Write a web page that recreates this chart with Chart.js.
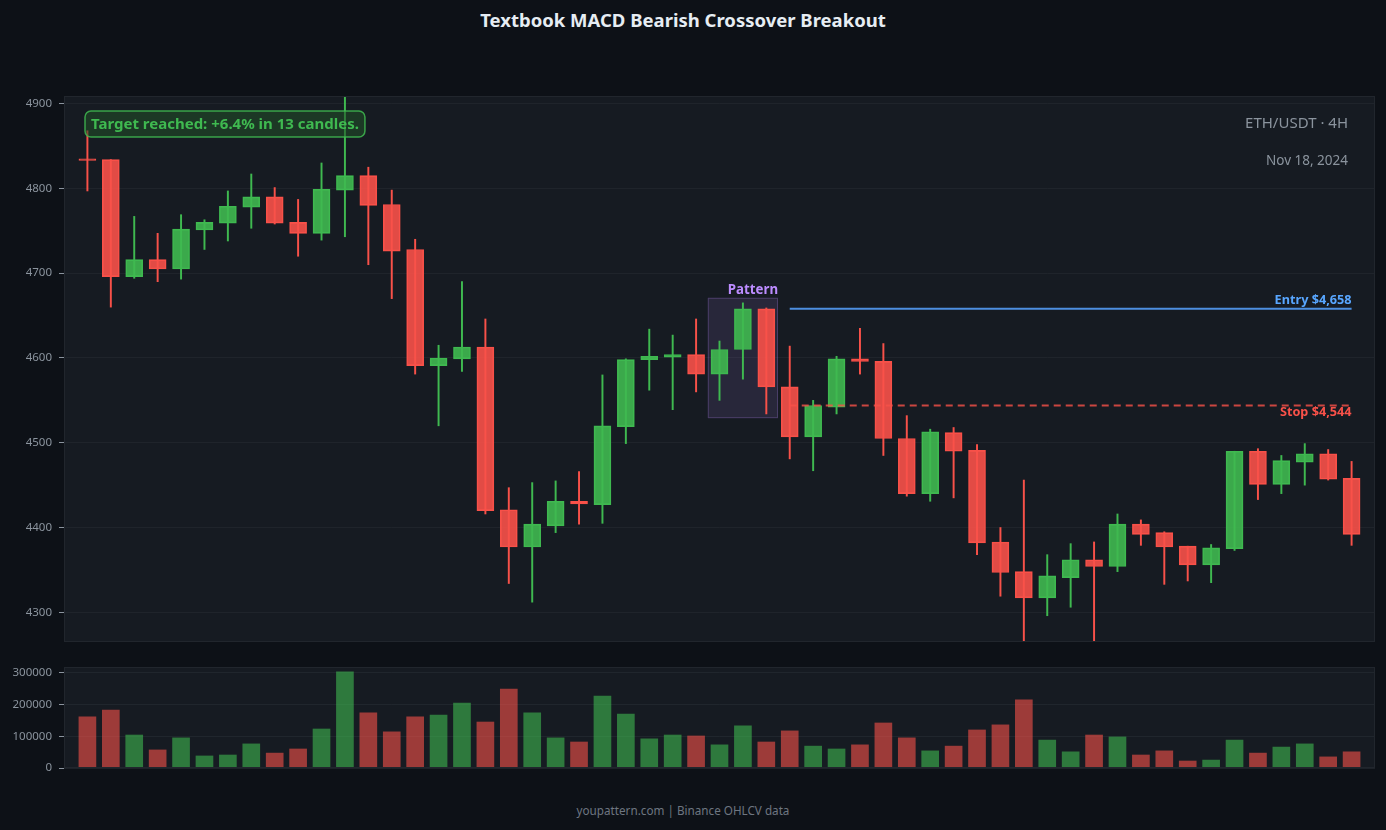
<!DOCTYPE html>
<html>
<head>
<meta charset="utf-8">
<script src="https://cdn.jsdelivr.net/npm/chart.js@4.4.0/dist/chart.umd.min.js"></script>
<style>
  html, body { margin: 0; padding: 0; background: #0d1117; }
  body { width: 1386px; height: 830px; position: relative; overflow: hidden; font-family: "Noto Sans", sans-serif; }
  #title { position: absolute; left: 0; top: 8px; width: 1366px; text-align: center; color: #e6edf3; font-weight: 700; font-size: 18.5px; line-height: 24px; }
  #footer { position: absolute; left: 0; top: 802px; width: 1366px; text-align: center; color: #6e7681; font-size: 11.7px; }
  #mainWrap { position: absolute; left: 0; top: 0; }
  #volWrap { position: absolute; left: 0; top: 655px; }
</style>
</head>
<body>
<div id="title">Textbook MACD Bearish Crossover Breakout</div>
<div id="mainWrap"><canvas id="priceChart" width="1386" height="650"></canvas></div>
<div id="volWrap"><canvas id="volChart" width="1386" height="120"></canvas></div>
<div id="footer">youpattern.com | Binance OHLCV data</div>

<script>
// OHLCV, one entry per candle
const opens  = [4835, 4834, 4696, 4716, 4705, 4751, 4759, 4778, 4790, 4760,
                4747, 4798, 4815, 4781, 4728, 4591, 4599, 4613, 4421, 4377,
                4402, 4431, 4427, 4519, 4598, 4601, 4604, 4581, 4610, 4658,
                4566, 4507, 4542, 4599, 4596, 4505, 4440, 4512, 4491, 4383,
                4348, 4317, 4341, 4362, 4354, 4404, 4394, 4378, 4356, 4375,
                4490, 4451, 4477, 4487, 4458];
const highs  = [4868, 4834, 4767, 4747, 4769, 4763, 4797, 4817, 4801, 4787,
                4830, 4915, 4825, 4798, 4740, 4615, 4690, 4646, 4447, 4453,
                4455, 4466, 4580, 4599, 4634, 4627, 4646, 4620, 4665, 4659,
                4614, 4550, 4602, 4635, 4617, 4532, 4516, 4518, 4498, 4400,
                4456, 4368, 4381, 4383, 4416, 4409, 4395, 4378, 4380, 4490,
                4493, 4485, 4499, 4492, 4478];
const lows   = [4797, 4660, 4694, 4690, 4693, 4728, 4738, 4753, 4758, 4720,
                4739, 4743, 4710, 4670, 4581, 4520, 4584, 4416, 4334, 4312,
                4394, 4404, 4405, 4499, 4562, 4539, 4560, 4550, 4575, 4534,
                4481, 4467, 4534, 4581, 4485, 4437, 4431, 4435, 4368, 4319,
                4258, 4296, 4306, 4258, 4348, 4379, 4333, 4337, 4335, 4373,
                4433, 4440, 4450, 4456, 4379];
const closes = [4833, 4696, 4716, 4705, 4752, 4760, 4779, 4790, 4759, 4747,
                4799, 4815, 4780, 4726, 4591, 4600, 4613, 4420, 4377, 4404,
                4431, 4428, 4520, 4598, 4602, 4604, 4581, 4610, 4658, 4566,
                4507, 4544, 4599, 4596, 4505, 4440, 4513, 4490, 4382, 4347,
                4317, 4343, 4362, 4354, 4404, 4392, 4377, 4356, 4376, 4490,
                4451, 4479, 4487, 4457, 4392];
const volumes = [161000, 183000, 104000, 57000, 95000, 38000, 41000, 76000, 47000, 60000,
                 123000, 303000, 174000, 114000, 161000, 167000, 205000, 145000, 249000, 174000,
                 95000, 82000, 227000, 170000, 92000, 104000, 101000, 73000, 133000, 82000,
                 117000, 69000, 60000, 73000, 142000, 95000, 54000, 69000, 120000, 136000,
                 215000, 88000, 51000, 104000, 98000, 41000, 54000, 22000, 25000, 88000,
                 47000, 66000, 76000, 35000, 51000];

const priceTicks = [4300, 4400, 4500, 4600, 4700, 4800, 4900];
const volumeTicks = [0, 100000, 200000, 300000];

const entryPrice = 4658;
const stopPrice = 4544;
const tradeFrom = 30, tradeTo = 54;
const patternFrom = 27, patternTo = 29;

const GREEN = '#3fb950';
const RED = '#f85149';
const up = opens.map((o, i) => closes[i] >= o);

Chart.defaults.font.family = '"Noto Sans", sans-serif';
Chart.defaults.color = '#8b949e';
Chart.defaults.animation = false;

const plotFrame = {
    id: 'plotFrame',
    beforeDraw(chart) {
        const { ctx, chartArea: a } = chart;
        ctx.save();
        ctx.fillStyle = '#161b22';
        ctx.fillRect(a.left, a.top, a.right - a.left, a.bottom - a.top);
        ctx.restore();
    },
    afterDraw(chart) {
        const { ctx, chartArea: a } = chart;
        ctx.save();
        ctx.strokeStyle = '#21262d';
        ctx.lineWidth = 1;
        ctx.strokeRect(a.left + 0.5, a.top + 0.5, a.right - a.left - 1, a.bottom - a.top - 1);
        ctx.restore();
    }
};

function roundRect(ctx, x, y, w, h, r) {
    ctx.beginPath();
    ctx.moveTo(x + r, y);
    ctx.arcTo(x + w, y, x + w, y + h, r);
    ctx.arcTo(x + w, y + h, x, y + h, r);
    ctx.arcTo(x, y + h, x, y, r);
    ctx.arcTo(x, y, x + w, y, r);
    ctx.closePath();
}

// pattern box under candles, labels on top
const annotations = {
    id: 'annotations',
    beforeDatasetsDraw(chart) {
        const { ctx, scales: { x, y } } = chart;
        let lo = Infinity, hi = -Infinity;
        for (let i = patternFrom; i <= patternTo; i++) {
            lo = Math.min(lo, lows[i]);
            hi = Math.max(hi, highs[i]);
        }
        const x0 = x.getPixelForValue(patternFrom - 0.5);
        const x1 = x.getPixelForValue(patternTo + 0.5);
        const y0 = y.getPixelForValue(hi + 6);
        const y1 = y.getPixelForValue(lo - 5);
        ctx.save();
        ctx.fillStyle = 'rgba(188,140,255,0.11)';
        ctx.strokeStyle = 'rgba(188,140,255,0.24)';
        ctx.lineWidth = 1;
        ctx.fillRect(x0, y0, x1 - x0, y1 - y0);
        ctx.strokeRect(x0 + 0.5, y0 + 0.5, x1 - x0 - 1, y1 - y0 - 1);
        ctx.fillStyle = '#bc8cff';
        ctx.font = '700 13.3px "Noto Sans"';
        ctx.textAlign = 'right';
        ctx.textBaseline = 'bottom';
        ctx.fillText('Pattern', x1, y0 - 1);
        ctx.restore();
    },
    afterDatasetsDraw(chart) {
        const { ctx, chartArea: a, scales: { x, y } } = chart;
        ctx.save();
        const xr = x.getPixelForValue(tradeTo);
        ctx.font = '700 12.7px "Noto Sans"';
        ctx.textAlign = 'right';
        ctx.textBaseline = 'bottom';
        ctx.fillStyle = '#58a6ff';
        ctx.fillText('Entry $4,658', xr, y.getPixelForValue(entryPrice) - 2);
        ctx.textBaseline = 'top';
        ctx.fillStyle = RED;
        ctx.fillText('Stop $4,544', xr, y.getPixelForValue(stopPrice) + 1);

        ctx.font = '15px "Noto Sans"';
        ctx.textBaseline = 'middle';
        ctx.fillStyle = '#8b949e';
        ctx.fillText('ETH/USDT · 4H', a.right - 27, 124);
        ctx.font = '13.5px "Noto Sans"';
        ctx.fillText('Nov 18, 2024', a.right - 27, 161);

        const msg = 'Target reached: +6.4% in 13 candles.';
        ctx.font = '700 15px "Noto Sans"';
        const w = ctx.measureText(msg).width + 12;
        ctx.fillStyle = 'rgba(35,80,40,0.55)';
        roundRect(ctx, 85, 111, w, 26, 6);
        ctx.fill();
        ctx.strokeStyle = 'rgba(63,185,80,0.85)';
        ctx.lineWidth = 1.5;
        ctx.stroke();
        ctx.fillStyle = GREEN;
        ctx.textAlign = 'left';
        ctx.fillText(msg, 91, 124.5);
        ctx.restore();
    }
};

const idx = opens.map((_, i) => i);

function fitY(s) {
    s.width = 64;
    s.paddingTop = 0;
    s.paddingBottom = 0;
}

new Chart(document.getElementById('priceChart'), {
    type: 'bar',
    data: {
        datasets: [{
            type: 'line',
            data: [{ x: tradeFrom, y: entryPrice }, { x: tradeTo, y: entryPrice }],
            borderColor: 'rgba(80,150,235,0.95)',
            borderWidth: 2,
            pointRadius: 0
        }, {
            type: 'line',
            data: [{ x: tradeFrom, y: stopPrice }, { x: tradeTo, y: stopPrice }],
            borderColor: 'rgba(248,81,73,0.8)',
            borderWidth: 2,
            borderDash: [7, 5],
            pointRadius: 0
        }, {
            // bodies
            data: idx.map(i => ({ x: i, y: [opens[i], closes[i]] })),
            backgroundColor: up.map(u => u ? 'rgba(63,185,80,0.9)' : 'rgba(248,81,73,0.9)'),
            borderColor: up.map(u => u ? GREEN : RED),
            borderWidth: 1,
            borderSkipped: false,
            barThickness: 17,
            grouped: false
        }, {
            // wicks
            data: idx.map(i => ({ x: i, y: [lows[i], highs[i]] })),
            backgroundColor: up.map(u => u ? GREEN : RED),
            borderWidth: 0,
            barThickness: 1.3,
            grouped: false
        }]
    },
    options: {
        responsive: false,
        layout: { padding: { top: 96, right: 11, bottom: 8, left: 0 } },
        plugins: { legend: { display: false }, tooltip: { enabled: false } },
        scales: {
            x: { type: 'linear', min: -1, max: 55, offset: false, display: false, grid: { offset: false } },
            y: {
                min: 4265,
                max: 4909,
                afterFit: fitY,
                afterBuildTicks(s) { s.ticks = priceTicks.map(v => ({ value: v })); },
                ticks: { padding: 7, font: { size: 11.5 }, color: '#8b949e', callback: v => String(v) },
                grid: { color: 'rgba(48,54,61,0.35)', tickColor: '#8b949e', tickLength: 5 },
                border: { display: false }
            }
        }
    },
    plugins: [plotFrame, annotations]
});

new Chart(document.getElementById('volChart'), {
    type: 'bar',
    data: {
        datasets: [{
            data: idx.map(i => ({ x: i, y: volumes[i] })),
            backgroundColor: up.map(u => u ? 'rgba(63,185,80,0.6)' : 'rgba(248,81,73,0.6)'),
            barThickness: 17
        }]
    },
    options: {
        responsive: false,
        layout: { padding: { top: 12, right: 11, bottom: 7, left: 0 } },
        plugins: { legend: { display: false }, tooltip: { enabled: false } },
        scales: {
            x: { type: 'linear', min: -1, max: 55, offset: false, display: false, grid: { offset: false } },
            y: {
                min: 0,
                max: 318500,
                z: 1,
                afterFit: fitY,
                afterBuildTicks(s) { s.ticks = volumeTicks.map(v => ({ value: v })); },
                ticks: { padding: 7, font: { size: 11.5 }, color: '#8b949e', callback: v => String(v) },
                grid: { color: 'rgba(40,46,54,0.6)', tickColor: '#8b949e', tickLength: 5 },
                border: { display: false }
            }
        }
    },
    plugins: [plotFrame]
});
</script>
</body>
</html>
